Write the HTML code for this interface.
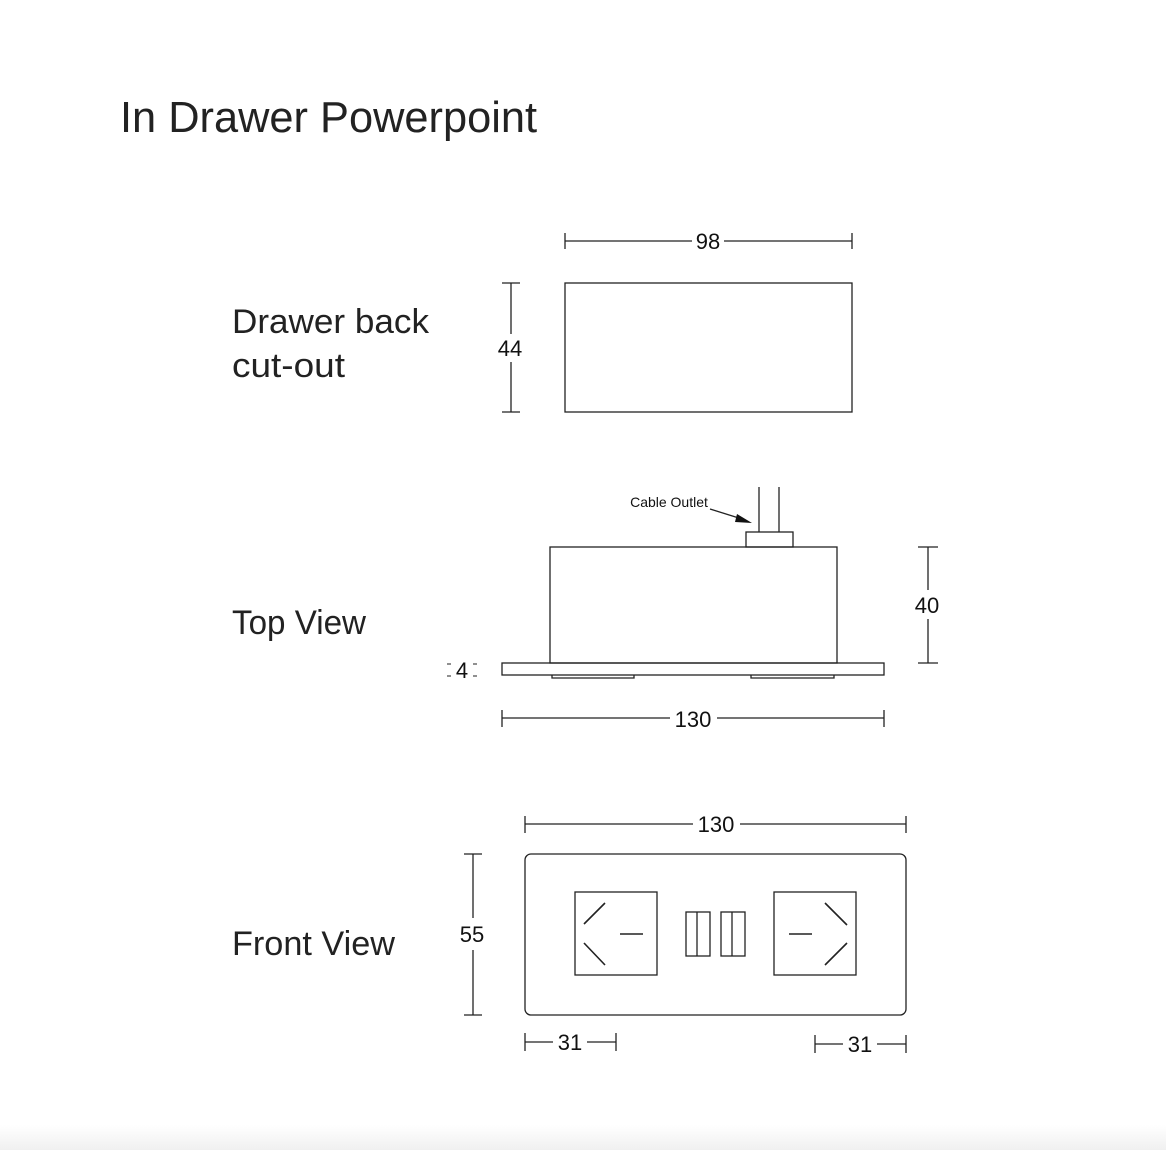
<!DOCTYPE html>
<html><head><meta charset="utf-8"><style>
html,body{margin:0;padding:0;background:#fff;}
svg{display:block;}
</style></head><body>
<svg width="1166" height="1150" viewBox="0 0 1166 1150" xmlns="http://www.w3.org/2000/svg" font-family="Liberation Sans, sans-serif">
<defs><linearGradient id="g" x1="0" y1="0" x2="0" y2="1"><stop offset="0" stop-color="#fff"/><stop offset="1" stop-color="#f0f0f0"/></linearGradient></defs>
<rect x="0" y="1125" width="1166" height="25" fill="url(#g)"/>
<g fill="#222">
<text x="120" y="132" font-size="44" textLength="417" lengthAdjust="spacingAndGlyphs">In Drawer Powerpoint</text>
<text x="232" y="333" font-size="34" textLength="197" lengthAdjust="spacingAndGlyphs">Drawer back</text>
<text x="232" y="377" font-size="34" textLength="113" lengthAdjust="spacingAndGlyphs">cut-out</text>
<text x="232" y="634" font-size="34" textLength="134" lengthAdjust="spacingAndGlyphs">Top View</text>
<text x="232" y="955" font-size="34" textLength="163" lengthAdjust="spacingAndGlyphs">Front View</text>
</g>
<g stroke="#222" stroke-width="1.3" fill="none">
<!-- drawer back -->
<rect x="565" y="283" width="287" height="129"/>
<line x1="565" y1="241" x2="692" y2="241"/><line x1="724" y1="241" x2="852" y2="241"/>
<line x1="565" y1="233" x2="565" y2="249"/><line x1="852" y1="233" x2="852" y2="249"/>
<line x1="511" y1="283" x2="511" y2="334"/><line x1="511" y1="362" x2="511" y2="412"/>
<line x1="502" y1="283" x2="520" y2="283"/><line x1="502" y1="412" x2="520" y2="412"/>
<!-- top view -->
<line x1="759" y1="487" x2="759" y2="532"/><line x1="779" y1="487" x2="779" y2="532"/>
<rect x="746" y="532" width="47" height="15"/>
<rect x="550" y="547" width="287" height="116"/>
<rect x="502" y="663" width="382" height="12"/>
<path d="M552 675V678H634V675M751 675V678H834V675"/>
<line x1="710" y1="509" x2="742" y2="519"/>
<line x1="928" y1="547" x2="928" y2="590"/><line x1="928" y1="619" x2="928" y2="663"/>
<line x1="918" y1="547" x2="938" y2="547"/><line x1="918" y1="663" x2="938" y2="663"/>
<line x1="502" y1="718" x2="670" y2="718"/><line x1="717" y1="718" x2="884" y2="718"/>
<line x1="502" y1="710" x2="502" y2="727"/><line x1="884" y1="710" x2="884" y2="727"/>
<path d="M447 664h4M447 676h4M473 664h4M473 676h4" stroke-width="1"/>
<!-- front -->
<rect x="525" y="854" width="381" height="161" rx="6"/>
<rect x="575" y="892" width="82" height="83"/>
<rect x="774" y="892" width="82" height="83"/>
<path d="M605 903L584 924M584 943L605 965M620 934H643M789 934H812M825 903L847 925M847 943L825 965" stroke-width="1.6"/>
<rect x="686" y="912" width="24" height="44"/><line x1="697" y1="912" x2="697" y2="956"/>
<rect x="721" y="912" width="24" height="44"/><line x1="732" y1="912" x2="732" y2="956"/>
<line x1="473" y1="854" x2="473" y2="918"/><line x1="473" y1="950" x2="473" y2="1015"/>
<line x1="464" y1="854" x2="482" y2="854"/><line x1="464" y1="1015" x2="482" y2="1015"/>
<line x1="525" y1="824" x2="693" y2="824"/><line x1="740" y1="824" x2="906" y2="824"/>
<line x1="525" y1="816" x2="525" y2="833"/><line x1="906" y1="816" x2="906" y2="833"/>
<line x1="525" y1="1042" x2="553" y2="1042"/><line x1="587" y1="1042" x2="616" y2="1042"/>
<line x1="525" y1="1033" x2="525" y2="1051"/><line x1="616" y1="1033" x2="616" y2="1051"/>
<line x1="815" y1="1044" x2="843" y2="1044"/><line x1="877" y1="1044" x2="906" y2="1044"/>
<line x1="815" y1="1035" x2="815" y2="1053"/><line x1="906" y1="1035" x2="906" y2="1053"/>
</g>
<polygon points="752,523 737,514 735,522" fill="#111"/>
<g fill="#111" font-size="22" text-anchor="middle">
<text x="708" y="249">98</text>
<text x="510" y="356">44</text>
<text x="927" y="613">40</text>
<text x="462" y="678">4</text>
<text x="693" y="727">130</text>
<text x="716" y="832">130</text>
<text x="472" y="942">55</text>
<text x="570" y="1050">31</text>
<text x="860" y="1052">31</text>
<text x="669" y="507" font-size="14">Cable Outlet</text>
</g>
</svg>
</body></html>
